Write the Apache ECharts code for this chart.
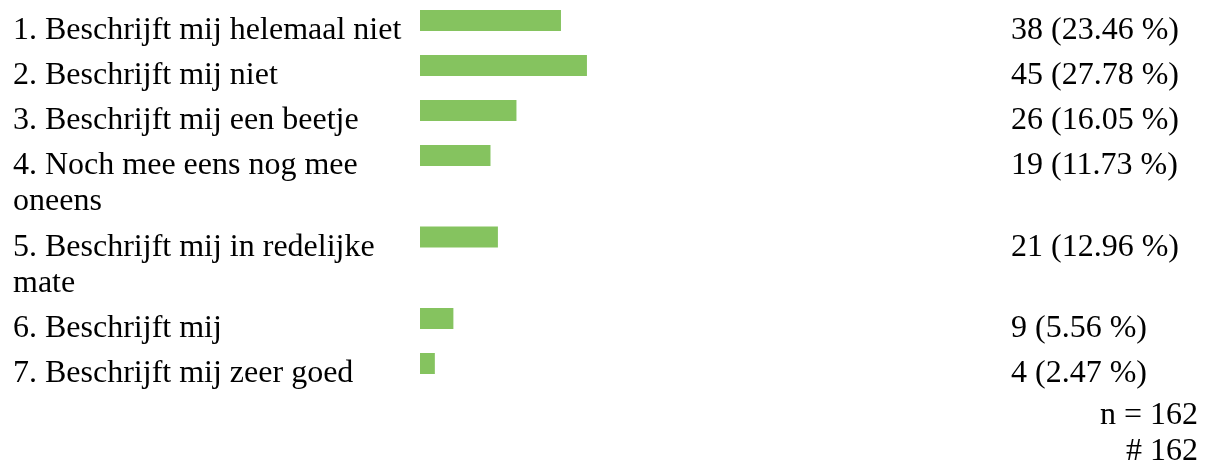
<!DOCTYPE html>
<html>
<head>
<meta charset="utf-8">
<script src="https://cdn.jsdelivr.net/npm/echarts@6/dist/echarts.min.js"></script>
<style>
  html, body { margin: 0; padding: 0; background: #ffffff; }
  #chart { width: 1208px; height: 466px; }
</style>
</head>
<body>
<div id="chart"></div>
<script>
// Answer options (line breaks mark where the option text wraps)
const categories = [
  '1. Beschrijft mij helemaal niet',
  '2. Beschrijft mij niet',
  '3. Beschrijft mij een beetje',
  '4. Noch mee eens nog mee\noneens',
  '5. Beschrijft mij in redelijke\nmate',
  '6. Beschrijft mij',
  '7. Beschrijft mij zeer goed'
];
// Number of respondents per option
const counts = [38, 45, 26, 19, 21, 9, 4];

const FONT = '"Liberation Serif", "Times New Roman", serif';
const FONT_SIZE = 32;
const LINE_H = 36;
const BAR_H = 21;
const TEXT_SHIFT = 3;
const GREEN = '#85c35f';

const total = counts.reduce((a, b) => a + b, 0);

// Each row is as tall as its (possibly wrapped) label; y units are pixels.
const rowHeights = categories.map(c => c.split('\n').length * 36.5 + 8.5);
const rowStarts = [];
rowHeights.reduce((acc, h) => { rowStarts.push(acc); return acc + h; }, 0);
const tableHeight = rowHeights.reduce((a, b) => a + b, 0);

const data = counts.map((v, i) => [v, rowStarts[i], i]);

function textStyle(text, align) {
  return {
    text: text,
    fontFamily: FONT,
    fontSize: FONT_SIZE,
    lineHeight: LINE_H,
    fill: '#000000',
    align: align,
    verticalAlign: 'top'
  };
}

const chart = echarts.init(document.getElementById('chart'), null, { renderer: 'canvas' });

chart.setOption({
  animation: false,
  backgroundColor: '#ffffff',
  grid: { left: 420, top: 10, width: 601, height: tableHeight },
  xAxis: { type: 'value', min: 0, max: total, show: false },
  yAxis: { type: 'value', min: 0, max: tableHeight, inverse: true, show: false },
  series: [{
    type: 'custom',
    data: data,
    encode: { x: 0, y: 1 },
    renderItem: function (params, api) {
      const value = api.value(0);
      const start = api.value(1);
      const idx = api.value(2);
      const p0 = api.coord([0, start]);
      const p1 = api.coord([value, start + BAR_H]);
      const pct = (value / total * 100).toFixed(2);
      return {
        type: 'group',
        children: [
          {
            type: 'rect',
            shape: { x: p0[0], y: p0[1], width: p1[0] - p0[0], height: p1[1] - p0[1] },
            style: { fill: GREEN }
          },
          {
            type: 'text',
            x: 13,
            y: p0[1] + TEXT_SHIFT,
            style: textStyle(categories[idx], 'left')
          },
          {
            type: 'text',
            x: 1011,
            y: p0[1] + TEXT_SHIFT,
            style: textStyle(value + ' (' + pct + ' %)', 'left')
          }
        ]
      };
    }
  }],
  graphic: [
    {
      type: 'text',
      x: 1198,
      y: 416,
      style: Object.assign(textStyle('n = ' + total, 'right'), { verticalAlign: 'middle' })
    },
    {
      type: 'text',
      x: 1198,
      y: 452,
      style: Object.assign(textStyle('# ' + total, 'right'), { verticalAlign: 'middle' })
    }
  ]
});
</script>
</body>
</html>
